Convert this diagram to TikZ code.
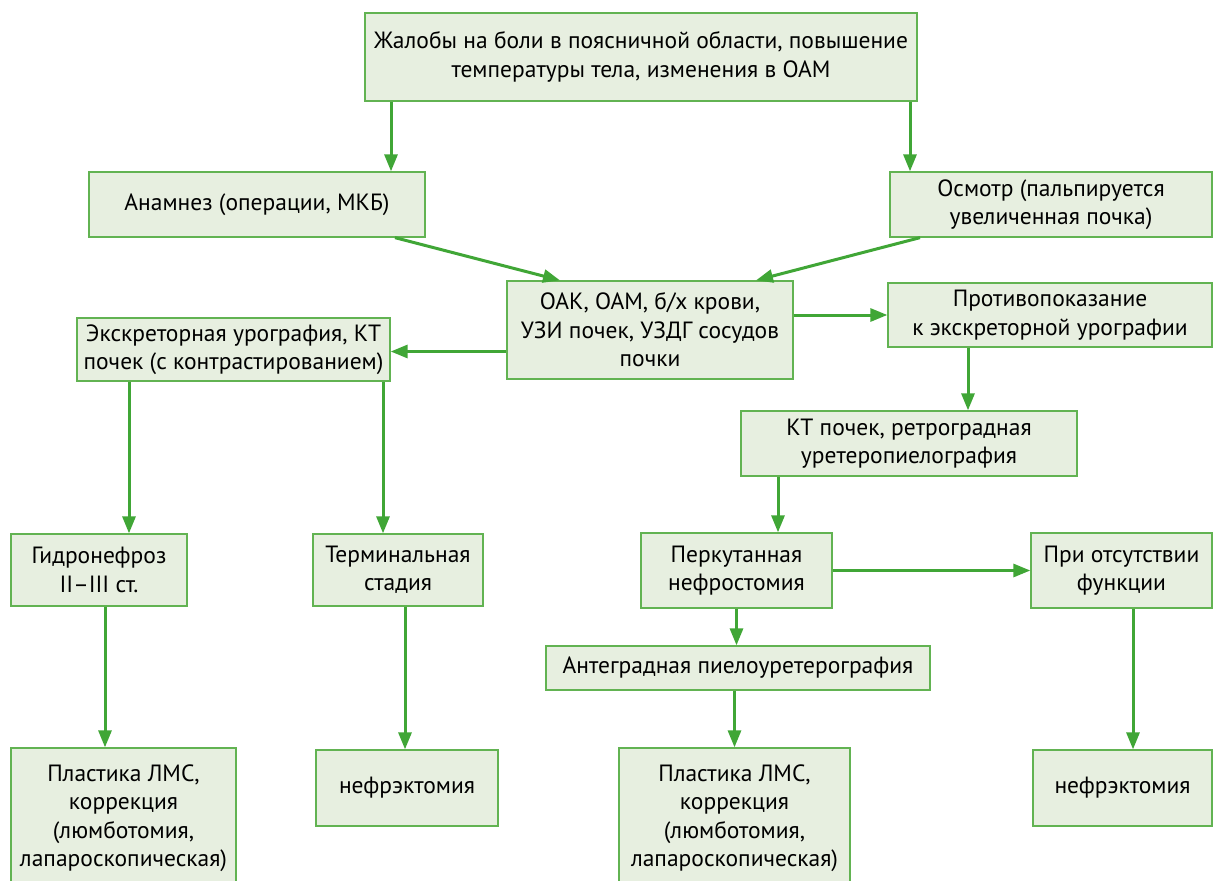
\documentclass[tikz,border=0pt]{standalone}
\usepackage{fontspec}
\setmainfont{PT Sans}
\usepackage{tikz}
\usetikzlibrary{arrows.meta}
\definecolor{boxfill}{HTML}{E7EFE0}
\definecolor{boxline}{HTML}{62B352}
\definecolor{arrline}{HTML}{40A636}

\begin{document}
\begin{tikzpicture}[x=1pt,y=-1pt,
  box/.style={draw=boxline,line width=1.3pt,fill=boxfill,align=center,inner sep=2pt,
    font=\fontsize{23.5}{28.5}\selectfont},
  arr/.style={draw=arrline,line width=3pt,-{Triangle[length=17pt,width=13pt]}}]

\clip (0,0) rectangle (1214,880);

% boxes
\node[box,minimum width=552pt,minimum height=88pt] (compl) at (641,57)
  {Жалобы на боли в поясничной области, повышение\\температуры тела, изменения в ОАМ};
\node[box,minimum width=336pt,minimum height=65pt] (anam) at (257,204.5)
  {Анамнез (операции, МКБ)};
\node[box,minimum width=322pt,minimum height=65pt] (osm) at (1051,204.5)
  {Осмотр (пальпируется\\увеличенная почка)};
\node[box,minimum width=286pt,minimum height=98pt] (oak) at (650,330)
  {ОАК, ОАМ, б/х крови,\\УЗИ почек, УЗДГ сосудов\\почки};
\node[box,minimum width=313pt,minimum height=63pt] (eks) at (233.5,349.5)
  {Экскреторная урография, КТ\\почек (с контрастированием)};
\node[box,minimum width=324pt,minimum height=64pt] (contra) at (1050,315)
  {Противопоказание\\к экскреторной урографии};
\node[box,minimum width=336pt,minimum height=65pt] (ktret) at (909,443.5)
  {КТ почек, ретроградная\\уретеропиелография};
\node[box,minimum width=176pt,minimum height=72pt] (hydro) at (99,570)
  {Гидронефроз\\II–III ст.};
\node[box,minimum width=170pt,minimum height=72pt] (term) at (398,570)
  {Терминальная\\стадия};
\node[box,minimum width=191pt,minimum height=75pt] (perc) at (736.5,570.5)
  {Перкутанная\\нефростомия};
\node[box,minimum width=181pt,minimum height=75pt] (nofunc) at (1121.5,570.5)
  {При отсутствии\\функции};
\node[box,minimum width=384pt,minimum height=44pt] (antegr) at (738,668)
  {Антеградная пиелоуретерография};
\node[box,minimum width=225pt,minimum height=140pt] (plastA) at (123.5,818)
  {Пластика ЛМС,\\коррекция\\(люмботомия,\\лапароскопическая)};
\node[box,minimum width=182pt,minimum height=76pt] (nephA) at (407,788)
  {нефрэктомия};
\node[box,minimum width=231pt,minimum height=140pt] (plastB) at (734.5,818)
  {Пластика ЛМС,\\коррекция\\(люмботомия,\\лапароскопическая)};
\node[box,minimum width=179pt,minimum height=76pt] (nephB) at (1122.5,788)
  {нефрэктомия};

% arrows
\draw[arr] ([xshift=-250pt]compl.south) -- ([xshift=-250pt]compl.south |- anam.north);
\draw[arr] ([xshift=269pt]compl.south) -- ([xshift=269pt]compl.south |- osm.north);
\draw[arr] ([xshift=138pt]anam.south) -- ([xshift=-90pt]oak.north);
\draw[arr] ([xshift=-131pt]osm.south) -- ([xshift=106pt]oak.north);
\draw[arr] (oak.east |- contra.west) -- (contra.west);
\draw[arr] ([yshift=-2pt]oak.west |- eks.east) -- ([yshift=-2pt]eks.east);
\draw[arr] ([xshift=-82pt]contra.south) -- ([xshift=-82pt]contra.south |- ktret.north);
\draw[arr] ([xshift=-131pt]ktret.south) -- ([xshift=-131pt]ktret.south |- perc.north);
\draw[arr] ([xshift=-104.5pt]eks.south) -- ([xshift=-104.5pt]eks.south |- hydro.north);
\draw[arr] ([xshift=149.5pt]eks.south) -- ([xshift=149.5pt]eks.south |- term.north);
\draw[arr] (perc.east) -- (nofunc.west);
\draw[arr] (perc.south) -- (perc.south |- antegr.north);
\draw[arr] ([xshift=6pt]hydro.south) -- ([xshift=6pt]hydro.south |- plastA.north);
\draw[arr] ([xshift=7pt]term.south) -- ([xshift=7pt]term.south |- nephA.north);
\draw[arr] (antegr.south -| plastB.north) -- (plastB.north);
\draw[arr] ([xshift=11.5pt]nofunc.south) -- ([xshift=11.5pt]nofunc.south |- nephB.north);
\end{tikzpicture}
\end{document}
